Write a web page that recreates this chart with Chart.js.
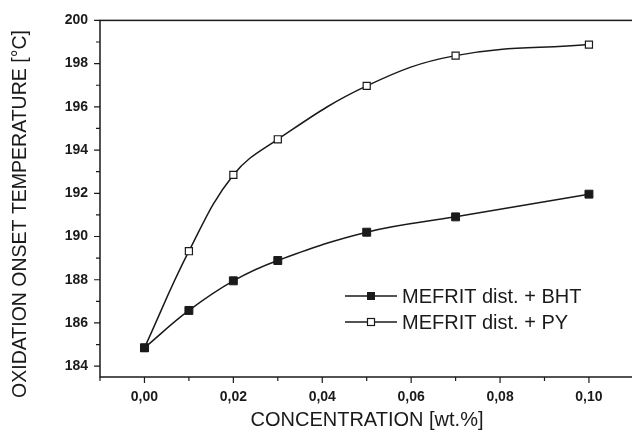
<!DOCTYPE html>
<html>
<head>
<meta charset="utf-8">
<script src="https://cdn.jsdelivr.net/npm/chart.js@4.4.0/dist/chart.umd.min.js"></script>
<style>
  html, body { margin: 0; padding: 0; background: #fff; overflow: hidden; }
  #wrap { width: 640px; height: 434px; }
</style>
</head>
<body>
<div id="wrap"><canvas id="myChart"></canvas></div>
<script>
// data
const concentration = [0, 0.01, 0.02, 0.03, 0.05, 0.07, 0.10];
const bhtTemp = [184.85, 186.58, 187.95, 188.89, 190.2, 190.91, 191.96];
const pyTemp = [184.85, 189.32, 192.85, 194.5, 196.97, 198.37, 198.88];

const xMajorTicks = [0, 0.02, 0.04, 0.06, 0.08, 0.10];
const xMinorTicks = [-0.01, 0.01, 0.03, 0.05, 0.07, 0.09, 0.11];
const yMajorTicks = [184, 186, 188, 190, 192, 194, 196, 198, 200];
const yMinorTicks = [185, 187, 189, 191, 193, 195, 197, 199];

const seriesNames = ['MEFRIT dist. + BHT', 'MEFRIT dist. + PY'];
const xTitle = 'CONCENTRATION [wt.%]';
const yTitle = 'OXIDATION ONSET TEMPERATURE [\u00B0C]';

const ink = '#1a1a1a';
const fontFam = '"Liberation Sans", Arial, sans-serif';

function toPoints(ys) {
	return concentration.map((c, i) => ({ x: c, y: ys[i] }));
}

// frame, tick marks, titles and legend
const decor = {
	id: 'decor',
	beforeDatasetsDraw(chart) {
		const ctx = chart.ctx;
		const a = chart.chartArea;
		const xs = chart.scales.x, ys = chart.scales.y;
		ctx.save();
		ctx.strokeStyle = ink;
		ctx.lineWidth = 1.5;
		ctx.strokeRect(a.left, a.top, a.right - a.left, a.bottom - a.top);
		ctx.lineWidth = 1.2;
		ctx.beginPath();
		xMajorTicks.forEach(v => { const p = xs.getPixelForValue(v); ctx.moveTo(p, a.bottom); ctx.lineTo(p, a.bottom + 6); });
		xMinorTicks.forEach(v => { const p = xs.getPixelForValue(v); ctx.moveTo(p, a.bottom); ctx.lineTo(p, a.bottom + 4); });
		yMajorTicks.forEach(v => { const p = ys.getPixelForValue(v); ctx.moveTo(a.left, p); ctx.lineTo(a.left - 6, p); });
		yMinorTicks.forEach(v => { const p = ys.getPixelForValue(v); ctx.moveTo(a.left, p); ctx.lineTo(a.left - 4, p); });
		ctx.stroke();

		// axis titles
		ctx.fillStyle = ink;
		ctx.font = '20px ' + fontFam;
		ctx.textAlign = 'center';
		ctx.textBaseline = 'middle';
		ctx.fillText(xTitle, 367, 420);
		ctx.font = '19.5px ' + fontFam;
		ctx.translate(21, 214);
		ctx.rotate(-Math.PI / 2);
		ctx.fillText(yTitle, 0, 0);
		ctx.restore();
	},
	afterDatasetsDraw(chart) {
		const ctx = chart.ctx;
		ctx.save();
		const rows = [296, 322];
		chart.data.datasets.forEach((ds, i) => {
			const y = rows[i];
			ctx.strokeStyle = ink;
			ctx.lineWidth = 1.3;
			ctx.beginPath();
			ctx.moveTo(345, y); ctx.lineTo(397, y);
			ctx.stroke();
			ctx.fillStyle = ds.pointBackgroundColor;
			ctx.lineWidth = ds.pointBorderWidth;
			const s = 3.5;
			ctx.fillRect(371 - s, y - s, 2 * s, 2 * s);
			ctx.strokeRect(371 - s, y - s, 2 * s, 2 * s);
			ctx.fillStyle = ink;
			ctx.font = '20px ' + fontFam;
			ctx.textAlign = 'left';
			ctx.textBaseline = 'middle';
			ctx.fillText(ds.label, 402, y + 1);
		});
		ctx.restore();
	}
};

const config = {
	type: 'scatter',
	data: {
		datasets: [{
			label: seriesNames[0],
			data: toPoints(bhtTemp),
			showLine: true,
			borderColor: ink,
			borderWidth: 1.5,
			tension: 0.4,
			pointStyle: 'rect',
			pointRadius: 5.6,
			pointBorderWidth: 1,
			pointBackgroundColor: ink,
			pointBorderColor: ink
		}, {
			label: seriesNames[1],
			data: toPoints(pyTemp),
			showLine: true,
			borderColor: ink,
			borderWidth: 1.5,
			tension: 0.4,
			pointStyle: 'rect',
			pointRadius: 5,
			pointBorderWidth: 1.2,
			pointBackgroundColor: '#ffffff',
			pointBorderColor: ink
		}]
	},
	options: {
		responsive: true,
		maintainAspectRatio: false,
		animation: false,
		layout: { padding: { top: 20, left: 0, right: 0, bottom: 0 } },
		plugins: { legend: { display: false }, tooltip: { enabled: false } },
		scales: {
			x: {
				type: 'linear',
				min: -0.01,
				max: 0.11,
				afterBuildTicks: scale => { scale.ticks = xMajorTicks.map(v => ({ value: v })); },
				afterFit: scale => { scale.height = 57; },
				grid: { display: false, drawTicks: false },
				border: { display: false },
				ticks: {
					padding: 12,
					color: ink,
					font: { family: fontFam, size: 14, weight: 'bold' },
					callback: v => v.toFixed(2).replace('.', ',')
				}
			},
			y: {
				min: 183.5,
				max: 200,
				afterBuildTicks: scale => { scale.ticks = yMajorTicks.map(v => ({ value: v })); },
				afterFit: scale => { scale.width = 100; },
				grid: { display: false, drawTicks: false },
				border: { display: false },
				ticks: {
					padding: 12,
					color: ink,
					font: { family: fontFam, size: 14, weight: 'bold' },
					callback: v => String(v)
				}
			}
		}
	},
	plugins: [decor]
};

new Chart(document.getElementById('myChart'), config);
</script>
</body>
</html>
